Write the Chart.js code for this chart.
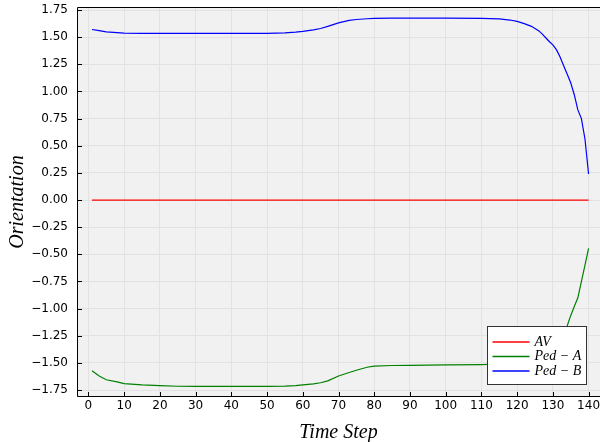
<!DOCTYPE html>
<html>
<head>
<meta charset="utf-8">
<script src="https://cdn.jsdelivr.net/npm/chart.js@4/dist/chart.umd.min.js"></script>
<style>
  html, body { margin: 0; padding: 0; background: #ffffff; }
  canvas { display: block; }
</style>
</head>
<body>
<canvas id="chart" width="600" height="442"></canvas>
<script>
// Orientation of each agent over the episode
const timeSteps = [1, 3, 5, 8, 10, 15, 20, 25, 30, 40, 50, 55, 58, 60, 63, 65, 67, 70, 73, 75, 78, 80, 85, 90, 100, 110, 115, 118, 120, 122, 124, 125, 126, 127, 128, 129, 130, 131, 132, 133, 134, 135, 136, 137, 138, 139, 140];

const avOrientation = timeSteps.map(() => 0);

const pedAOrientation = [-1.572, -1.620, -1.655, -1.675, -1.690, -1.703, -1.710, -1.715, -1.716, -1.716, -1.716, -1.714, -1.710, -1.703, -1.693, -1.683, -1.665, -1.620, -1.588, -1.568, -1.540, -1.530, -1.524, -1.522, -1.519, -1.515, -1.510, -1.507, -1.505, -1.500, -1.490, -1.480, -1.470, -1.460, -1.440, -1.420, -1.390, -1.350, -1.300, -1.240, -1.160, -1.065, -0.980, -0.900, -0.750, -0.600, -0.445];

const pedBOrientation = [1.571, 1.560, 1.549, 1.542, 1.538, 1.536, 1.535, 1.535, 1.535, 1.535, 1.535, 1.540, 1.546, 1.553, 1.568, 1.580, 1.600, 1.632, 1.655, 1.663, 1.670, 1.673, 1.675, 1.675, 1.675, 1.674, 1.668, 1.658, 1.645, 1.625, 1.600, 1.580, 1.560, 1.530, 1.495, 1.460, 1.430, 1.385, 1.320, 1.240, 1.160, 1.080, 0.970, 0.830, 0.750, 0.560, 0.240];

const xTicks = [0, 10, 20, 30, 40, 50, 60, 70, 80, 90, 100, 110, 120, 130, 140];
const yTicks = [-1.75, -1.5, -1.25, -1.0, -0.75, -0.5, -0.25, 0, 0.25, 0.5, 0.75, 1.0, 1.25, 1.5, 1.75];

const seriesNames = ['AV', 'Ped \u2212 A', 'Ped \u2212 B'];
const seriesColors = ['#ff0000', '#008000', '#0000ff'];
const seriesValues = [avOrientation, pedAOrientation, pedBOrientation];

const toPoints = (vals) => vals.map((v, i) => ({ x: timeSteps[i], y: v }));

const TICK_FONT = { family: 'DejaVu Sans', size: 12 };
const TITLE_FONT = { family: 'Liberation Serif', size: 20, style: 'italic' };

// Panel background, frame, inward tick marks and the boxed legend
const framePlugin = {
  id: 'frame',
  beforeDraw(chart) {
    const { ctx, chartArea: a } = chart;
    ctx.save();
    ctx.fillStyle = '#f1f1f1';
    ctx.fillRect(a.left, a.top, a.right - a.left, a.bottom - a.top);
    ctx.restore();
  },
  afterDatasetsDraw(chart) {
    const { ctx, chartArea: a, scales } = chart;
    ctx.save();
    ctx.strokeStyle = '#000000';
    ctx.lineWidth = 1;
    // frame
    ctx.beginPath();
    ctx.moveTo(a.right, a.top + 0.5);
    ctx.lineTo(a.left + 0.5, a.top + 0.5);
    ctx.lineTo(a.left + 0.5, a.bottom - 0.5);
    ctx.lineTo(a.right, a.bottom - 0.5);
    ctx.stroke();
    // inward ticks
    ctx.beginPath();
    scales.y.ticks.forEach(t => {
      const py = Math.round(scales.y.getPixelForValue(t.value)) + 0.5;
      ctx.moveTo(a.left, py);
      ctx.lineTo(a.left + 5, py);
    });
    scales.x.ticks.forEach(t => {
      const px = Math.round(scales.x.getPixelForValue(t.value)) + 0.5;
      ctx.moveTo(px, a.bottom);
      ctx.lineTo(px, a.bottom - 5);
    });
    ctx.stroke();

    // legend box in the lower right corner
    const boxW = 99, rowH = 14.5, boxH = 58;
    const bx = Math.round(a.right - 113) + 0.5;
    const by = Math.round(a.bottom - 71) + 0.5;
    ctx.fillStyle = '#ffffff';
    ctx.fillRect(bx, by, boxW, boxH);
    ctx.strokeStyle = '#333333';
    ctx.strokeRect(bx, by, boxW, boxH);
    ctx.font = 'italic 14px "Liberation Serif"';
    ctx.textBaseline = 'middle';
    ctx.textAlign = 'left';
    chart.data.datasets.forEach((ds, i) => {
      const yy = by + 15.5 + i * rowH;
      ctx.strokeStyle = ds.borderColor;
      ctx.lineWidth = 1.3;
      ctx.beginPath();
      ctx.moveTo(bx + 5, yy);
      ctx.lineTo(bx + 42, yy);
      ctx.stroke();
      ctx.fillStyle = '#000000';
      ctx.fillText(ds.label, bx + 47, yy);
    });
    ctx.restore();
  }
};

new Chart(document.getElementById('chart'), {
  type: 'line',
  data: {
    datasets: seriesNames.map((name, i) => ({
      label: name,
      data: toPoints(seriesValues[i]),
      borderColor: seriesColors[i],
      backgroundColor: seriesColors[i],
      borderWidth: 1.2,
      pointRadius: 0,
      tension: 0,
      fill: false
    }))
  },
  options: {
    responsive: false,
    animation: false,
    devicePixelRatio: 1,
    layout: { padding: { top: 7, right: 0, left: 0, bottom: 0 } },
    plugins: {
      legend: { display: false },
      tooltip: { enabled: false }
    },
    scales: {
      x: {
        type: 'linear',
        min: -3.2,
        max: 143.2,
        afterBuildTicks: (s) => { s.ticks = xTicks.map(v => ({ value: v })); },
        afterFit: (s) => { s.height = 45; s.paddingLeft = 0; s.paddingRight = 0; },
        grid: { color: '#e2e2e2', drawTicks: false, lineWidth: 1 },
        border: { display: false },
        ticks: {
          font: TICK_FONT,
          color: '#000000',
          padding: 2,
          maxRotation: 0,
          autoSkip: false,
          callback: (v) => String(v)
        },
        title: {
          display: true,
          text: 'Time Step',
          font: TITLE_FONT,
          color: '#000000',
          padding: { top: 0, bottom: -3 }
        }
      },
      y: {
        type: 'linear',
        min: -1.814,
        max: 1.778,
        afterBuildTicks: (s) => { s.ticks = yTicks.map(v => ({ value: v })); },
        afterFit: (s) => { s.width = 77; s.paddingTop = 0; s.paddingBottom = 0; },
        grid: { color: '#e2e2e2', drawTicks: false, lineWidth: 1 },
        border: { display: false },
        ticks: {
          font: TICK_FONT,
          color: '#000000',
          padding: 9,
          autoSkip: false,
          callback: (v) => (v < 0 ? '\u2212' : '') + Math.abs(v).toFixed(2)
        },
        title: {
          display: true,
          text: 'Orientation',
          font: TITLE_FONT,
          color: '#000000',
          padding: { top: 6, bottom: 0 }
        }
      }
    }
  },
  plugins: [framePlugin]
});
</script>
</body>
</html>
